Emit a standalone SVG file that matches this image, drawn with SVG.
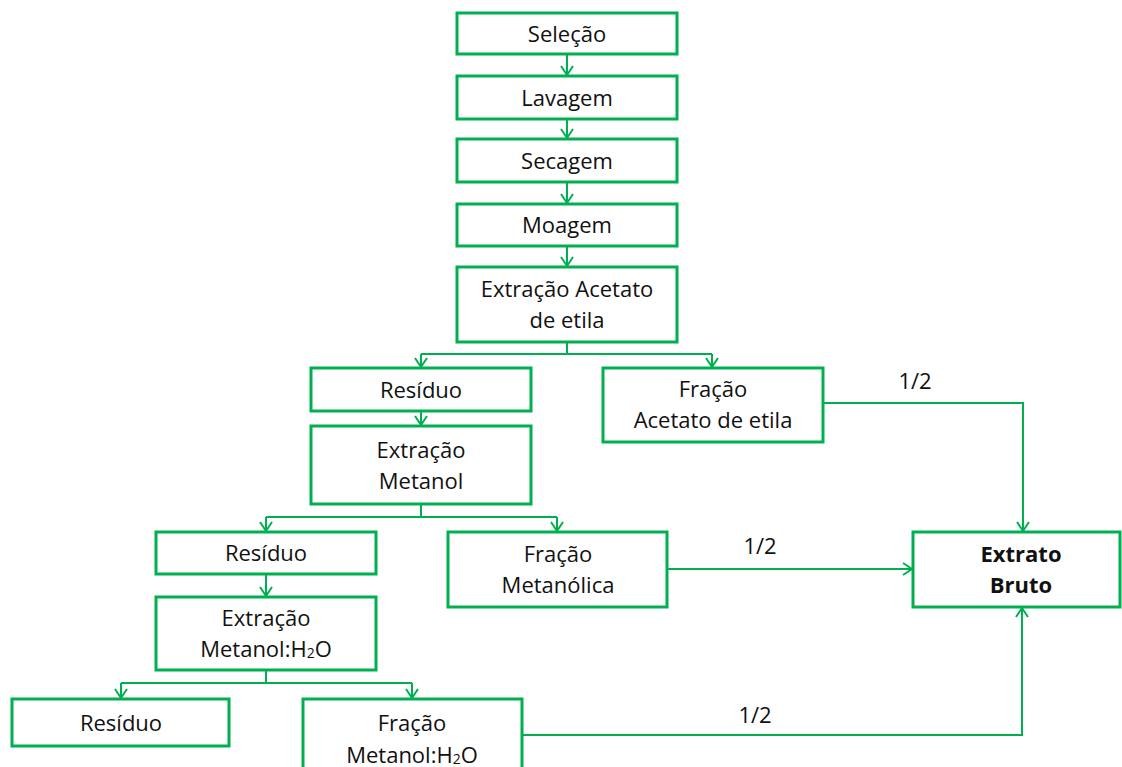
<svg xmlns="http://www.w3.org/2000/svg" width="1122" height="767" viewBox="0 0 1122 767">
<defs>
<style>
.box{fill:#fff;stroke:#00B050;stroke-width:3}
.t{font-family:"Open Sans","Noto Sans","Liberation Sans",sans-serif;font-size:22px;fill:#111;text-anchor:middle}
.b{font-weight:bold}
.c{fill:none;stroke:#00B050;stroke-width:2}
.sub{font-size:14px}
</style>
<marker id="ah" viewBox="0 0 12 14" refX="10.5" refY="7" markerWidth="12" markerHeight="14" markerUnits="userSpaceOnUse" orient="auto">
<path d="M1.5,1 L10.5,7 L1.5,13" fill="none" stroke="#00B050" stroke-width="2"/>
</marker>
</defs>
<rect width="1122" height="767" fill="#fff"/>
<g id="connectors">
<path class="c" d="M567,54 V75" marker-end="url(#ah)"/>
<path class="c" d="M567,119 V138" marker-end="url(#ah)"/>
<path class="c" d="M567,182 V203" marker-end="url(#ah)"/>
<path class="c" d="M567,246 V266" marker-end="url(#ah)"/>
<path class="c" d="M567,342 V354"/>
<path class="c" d="M421,354 H712"/>
<path class="c" d="M421,354 V367" marker-end="url(#ah)"/>
<path class="c" d="M712,354 V367" marker-end="url(#ah)"/>
<path class="c" d="M421,411 V425" marker-end="url(#ah)"/>
<path class="c" d="M421,504 V517"/>
<path class="c" d="M266,517 H557"/>
<path class="c" d="M266,517 V531" marker-end="url(#ah)"/>
<path class="c" d="M557,517 V531" marker-end="url(#ah)"/>
<path class="c" d="M266,574 V596" marker-end="url(#ah)"/>
<path class="c" d="M266,670 V683"/>
<path class="c" d="M121,683 H412"/>
<path class="c" d="M121,683 V698" marker-end="url(#ah)"/>
<path class="c" d="M412,683 V698" marker-end="url(#ah)"/>
<path class="c" d="M823,403 H1023 V531" marker-end="url(#ah)"/>
<path class="c" d="M667,569 H912" marker-end="url(#ah)"/>
<path class="c" d="M522,735 H1022 V608" marker-end="url(#ah)"/>
<text class="t" x="915" y="389">1/2</text>
<text class="t" x="760" y="554">1/2</text>
<text class="t" x="755" y="723">1/2</text>
</g>
<g id="selecao"><rect class="box" x="457" y="13" width="220" height="41"/><text class="t" x="567" y="42">Seleção</text></g>
<g id="lavagem"><rect class="box" x="457" y="76" width="220" height="43"/><text class="t" x="567" y="106">Lavagem</text></g>
<g id="secagem"><rect class="box" x="457" y="139" width="220" height="43"/><text class="t" x="567" y="169">Secagem</text></g>
<g id="moagem"><rect class="box" x="457" y="204" width="220" height="42"/><text class="t" x="567" y="233">Moagem</text></g>
<g id="extracao-acetato"><rect class="box" x="457" y="267" width="220" height="75"/><text class="t" x="567" y="297">Extração Acetato</text><text class="t" x="567" y="328">de etila</text></g>
<g id="residuo1"><rect class="box" x="311" y="368" width="220" height="43"/><text class="t" x="421" y="398">Resíduo</text></g>
<g id="fracao-acetato"><rect class="box" x="603" y="368" width="220" height="74"/><text class="t" x="713" y="397">Fração</text><text class="t" x="713" y="428">Acetato de etila</text></g>
<g id="extracao-metanol"><rect class="box" x="311" y="426" width="220" height="78"/><text class="t" x="421" y="458">Extração</text><text class="t" x="421" y="489">Metanol</text></g>
<g id="residuo2"><rect class="box" x="156" y="532" width="220" height="42"/><text class="t" x="266" y="561">Resíduo</text></g>
<g id="fracao-metanolica"><rect class="box" x="448" y="532" width="219" height="75"/><text class="t" x="558" y="562">Fração</text><text class="t" x="558" y="593">Metanólica</text></g>
<g id="extrato-bruto"><rect class="box" x="913" y="532" width="207" height="75"/><text class="t b" x="1021" y="562">Extrato</text><text class="t b" x="1021" y="593">Bruto</text></g>
<g id="extracao-metanol-h2o"><rect class="box" x="156" y="597" width="220" height="73"/><text class="t" x="266" y="626">Extração</text><text class="t" x="266" y="657">Metanol:H<tspan class="sub" dy="1">2</tspan><tspan dy="-1">O</tspan></text></g>
<g id="residuo3"><rect class="box" x="12" y="699" width="217" height="47"/><text class="t" x="121" y="731">Resíduo</text></g>
<g id="fracao-metanol-h2o"><rect class="box" x="303" y="699" width="219" height="80"/><text class="t" x="412" y="731">Fração</text><text class="t" x="412" y="763">Metanol:H<tspan class="sub" dy="1">2</tspan><tspan dy="-1">O</tspan></text></g>
</svg>
